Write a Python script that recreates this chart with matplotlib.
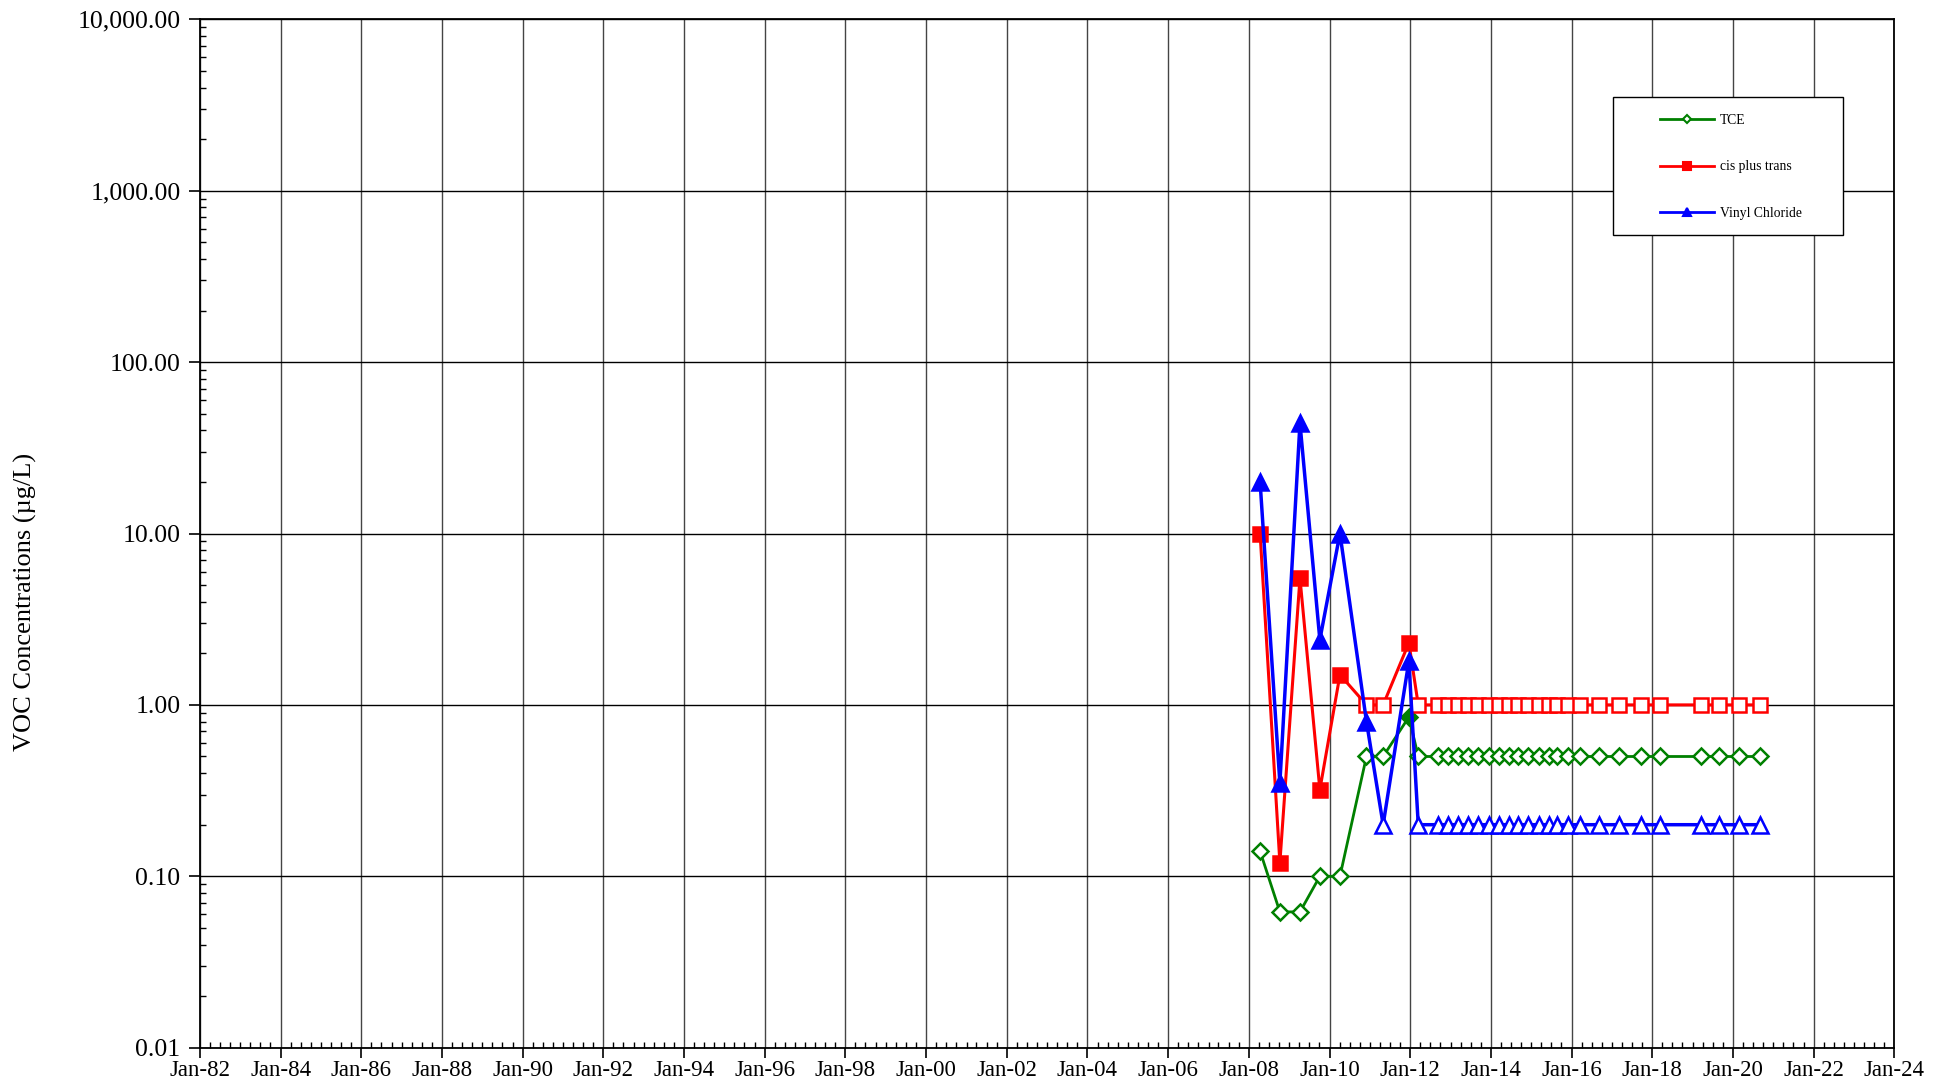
import datetime as dt
import matplotlib
matplotlib.use("Agg")
import matplotlib.pyplot as plt
import matplotlib.dates as mdates
from matplotlib.ticker import FuncFormatter, LogLocator, NullFormatter
from matplotlib.lines import Line2D
from matplotlib.patches import Rectangle

plt.rcParams['font.family'] = ['Liberation Serif', 'DejaVu Serif']

# sample dates
dates = ["2008-04-12", "2008-10-08", "2009-04-08", "2009-10-05", "2010-04-05",
         "2010-12-01", "2011-05-01", "2011-12-20", "2012-03-14", "2012-09-12",
         "2012-12-08", "2013-03-10", "2013-06-06", "2013-09-02", "2013-12-17",
         "2014-03-14", "2014-06-17", "2014-09-06", "2014-12-05", "2015-03-14",
         "2015-06-13", "2015-08-18", "2015-12-02", "2016-03-21", "2016-09-09",
         "2017-03-08", "2017-09-20", "2018-03-10", "2019-03-18", "2019-08-25",
         "2020-02-24", "2020-09-02"]

tce = [0.14, 0.062, 0.062, 0.10, 0.10, 0.5, 0.5, 0.85,
       0.5, 0.5, 0.5, 0.5, 0.5, 0.5, 0.5, 0.5, 0.5, 0.5, 0.5, 0.5, 0.5, 0.5,
       0.5, 0.5, 0.5, 0.5, 0.5, 0.5, 0.5, 0.5, 0.5, 0.5]
cis_trans = [10.0, 0.12, 5.5, 0.32, 1.5, 1.0, 1.0, 2.3,
             1.0, 1.0, 1.0, 1.0, 1.0, 1.0, 1.0, 1.0, 1.0, 1.0, 1.0, 1.0, 1.0, 1.0,
             1.0, 1.0, 1.0, 1.0, 1.0, 1.0, 1.0, 1.0, 1.0, 1.0]
vinyl = [20.0, 0.35, 44.0, 2.4, 10.0, 0.8, 0.2, 1.8,
         0.2, 0.2, 0.2, 0.2, 0.2, 0.2, 0.2, 0.2, 0.2, 0.2, 0.2, 0.2, 0.2, 0.2,
         0.2, 0.2, 0.2, 0.2, 0.2, 0.2, 0.2, 0.2, 0.2, 0.2]

# 1 = detected (filled marker), 0 = non-detect (open marker)
tce_det = [0, 0, 0, 0, 0, 0, 0, 1] + [0] * 24
cis_det = [1, 1, 1, 1, 1, 0, 0, 1] + [0] * 24
vin_det = [1, 1, 1, 1, 1, 1, 0, 1] + [0] * 24

x = [dt.datetime.strptime(d, "%Y-%m-%d") for d in dates]

W, H = 1946, 1089
fig = plt.figure(figsize=(W / 100, H / 100), dpi=100)
ax = fig.add_axes([200 / W, 1 - 1047.7 / H, 1694.3 / W, 1028.4 / H])

series = [
    ("TCE", tce, tce_det, "green", "D", 8.0, 2.0),
    ("cis plus trans", cis_trans, cis_det, "red", "s", 10.5, 2.2),
    ("Vinyl Chloride", vinyl, vin_det, "blue", "^", 11.0, 2.5),
]

handles = []
for i, (name, vals, det, col, mk, ms, lw) in enumerate(series):
    z = 3 + i
    ax.plot(x, vals, color=col, lw=lw, zorder=z)
    xf = [xx for xx, d in zip(x, det) if d]
    yf = [v for v, d in zip(vals, det) if d]
    xo = [xx for xx, d in zip(x, det) if not d]
    yo = [v for v, d in zip(vals, det) if not d]
    ax.plot(xo, yo, ls="none", marker=mk, ms=ms, mfc="white", mec=col,
            mew=1.8, zorder=z)
    ax.plot(xf, yf, ls="none", marker=mk, ms=ms, mfc=col, mec=col,
            mew=1.8, zorder=z)
    lg_fill = "white" if name == "TCE" else col
    handles.append(Line2D([], [], color=col, lw=2.0, marker=mk,
                          ms=ms * 0.55, mfc=lg_fill, mec=col, mew=1.5,
                          label=name))

ax.set_yscale("log")
ax.set_ylim(0.01, 10000)
ax.set_xlim(dt.datetime(1982, 1, 1), dt.datetime(2024, 1, 1))

ax.xaxis.set_major_locator(mdates.YearLocator(2))
ax.xaxis.set_major_formatter(mdates.DateFormatter("%b-%y"))
ax.xaxis.set_minor_locator(mdates.MonthLocator(bymonth=[1, 4, 7, 10]))
ax.yaxis.set_major_locator(LogLocator(base=10, numticks=10))
ax.yaxis.set_minor_locator(LogLocator(base=10, subs=range(2, 10), numticks=20))
ax.yaxis.set_major_formatter(FuncFormatter(lambda v, p: f"{v:,.2f}"))
ax.yaxis.set_minor_formatter(NullFormatter())

ax.tick_params(which="major", direction="out", length=8, width=1.2)
ax.tick_params(axis="x", which="major", labelsize=16.5, length=7, pad=1.5)
ax.tick_params(axis="y", which="major", labelsize=18.5, pad=6)
ax.tick_params(which="minor", direction="in", length=4, width=1)

ax.grid(True, which="major", axis="y", color="black", lw=1)
ax.grid(True, which="major", axis="x", color="#444444", lw=1)
for s in ax.spines.values():
    s.set_linewidth(1.3)

fig.text(25 / W, 1 - 602 / H, "VOC Concentrations (µg/L)", fontsize=19,
         rotation=90, ha="center", va="center")

# legend box
box = Rectangle((1613 / W, 1 - 235 / H), 230 / W, 138 / H,
                transform=fig.transFigure, facecolor="white",
                edgecolor="black", lw=1, zorder=8, clip_on=False)
ax.add_patch(box)
leg = ax.legend(handles=handles, loc="upper left",
                bbox_to_anchor=(1660 / W, 1 - 114 / H),
                bbox_transform=fig.transFigure, frameon=False,
                fontsize=9.8, labelspacing=2.45, handlelength=4.0,
                handletextpad=0.4, borderpad=0, borderaxespad=0)
leg.set_zorder(10)

fig.savefig("out.png", dpi=100)
